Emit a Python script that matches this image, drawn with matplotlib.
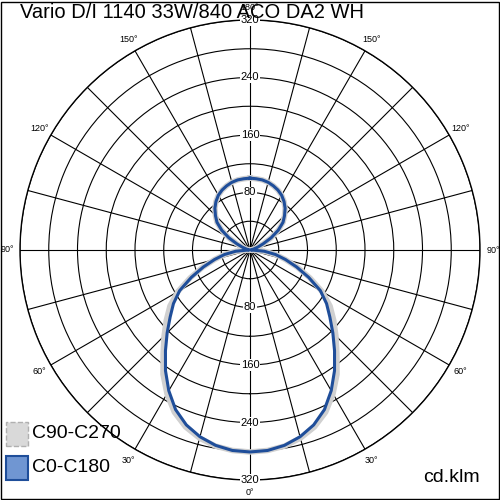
import matplotlib.pyplot as plt
import matplotlib.patches as mpatches
import numpy as np

plt.rcParams['font.family'] = ['Liberation Sans', 'DejaVu Sans']

# Intensidade (cd/klm) por angulo gamma, 0 = nadir
gamma = list(range(0, 181, 5))
c0_c180 = [281, 280, 276, 269, 259, 245, 226, 205, 183, 163, 145, 130, 113, 90, 69, 51, 36, 20, 2,
           1, 3, 5, 11, 20, 34, 48, 60, 68, 76, 82.5, 88, 92, 95, 97.5, 99, 99.5, 100]
c90_c270 = [281, 280, 277, 271, 262, 249, 231, 211, 188, 169, 152, 136, 116, 92, 70, 51, 36, 20, 2,
            1, 3, 5, 11, 20, 34, 48, 60, 68, 76, 82.5, 88, 92, 95, 97.5, 99, 99.5, 100]

title = "Vario D/I 1140 33W/840 ACO DA2 WH"
ring_labels = [80, 160, 240, 320]
angle_labels = [0, 30, 60, 90, 120, 150, 180]


def full_curve(vals):
    g = np.array(gamma, dtype=float)
    v = np.array(vals, dtype=float)
    th = np.concatenate([-g[::-1], g[1:]])
    r = np.concatenate([v[::-1], v[1:]])
    return np.radians(th), r


fig = plt.figure(figsize=(5, 5), dpi=100)
ax = fig.add_axes([0.04, 0.04, 0.92, 0.92], projection='polar')
ax.set_theta_zero_location('S')
ax.set_theta_direction(1)
ax.set_rlim(0, 320)
ax.set_rticks(range(40, 321, 40))
ax.set_yticklabels([])
ax.set_thetagrids(range(0, 360, 15), labels=[])
ax.grid(True, color='black', linewidth=0.8)
ax.spines['polar'].set_linewidth(1.0)

th, r = full_curve(c90_c270)
ax.plot(th, r, color='#d0d0d0', linewidth=4, zorder=3)
th, r = full_curve(c0_c180)
ax.plot(th, r, color='#1f4e9a', linewidth=2.2, zorder=4)

# rotulos dos aneis (em cima e embaixo)
for v in ring_labels:
    for t in (0, 180):
        ax.text(np.radians(t), v, str(v), ha='center', va='center', fontsize=8,
                bbox=dict(facecolor='white', edgecolor='none', pad=0.5), zorder=5)

# rotulos dos angulos
for a in angle_labels:
    sides = [a] if a in (0, 180) else [a, -a]
    for t in sides:
        ax.text(np.radians(t), 338, f"{a}°", ha='center', va='center', fontsize=6.5,
                clip_on=False, zorder=5)

fig.text(0.04, 0.975, title, ha='left', va='center', fontsize=14.5, zorder=10)

# legenda
fig.patches.append(mpatches.Rectangle((0.012, 0.108), 0.044, 0.048, transform=fig.transFigure,
                                      facecolor='#d9d9d9', edgecolor='#b0b0b0', linestyle='--', linewidth=1))
fig.patches.append(mpatches.Rectangle((0.012, 0.04), 0.044, 0.048, transform=fig.transFigure,
                                      facecolor='#7096d2', edgecolor='#1f4e9a', linewidth=1.5))
fig.text(0.064, 0.132, "C90-C270", ha='left', va='center', fontsize=14)
fig.text(0.064, 0.064, "C0-C180", ha='left', va='center', fontsize=14)
fig.text(0.96, 0.044, "cd.klm", ha='right', va='center', fontsize=14)

fig.patches.append(mpatches.Rectangle((0.002, 0.002), 0.995, 0.995, transform=fig.transFigure,
                                      facecolor='none', edgecolor='black', linewidth=1))

fig.savefig('out.png', dpi=100)
